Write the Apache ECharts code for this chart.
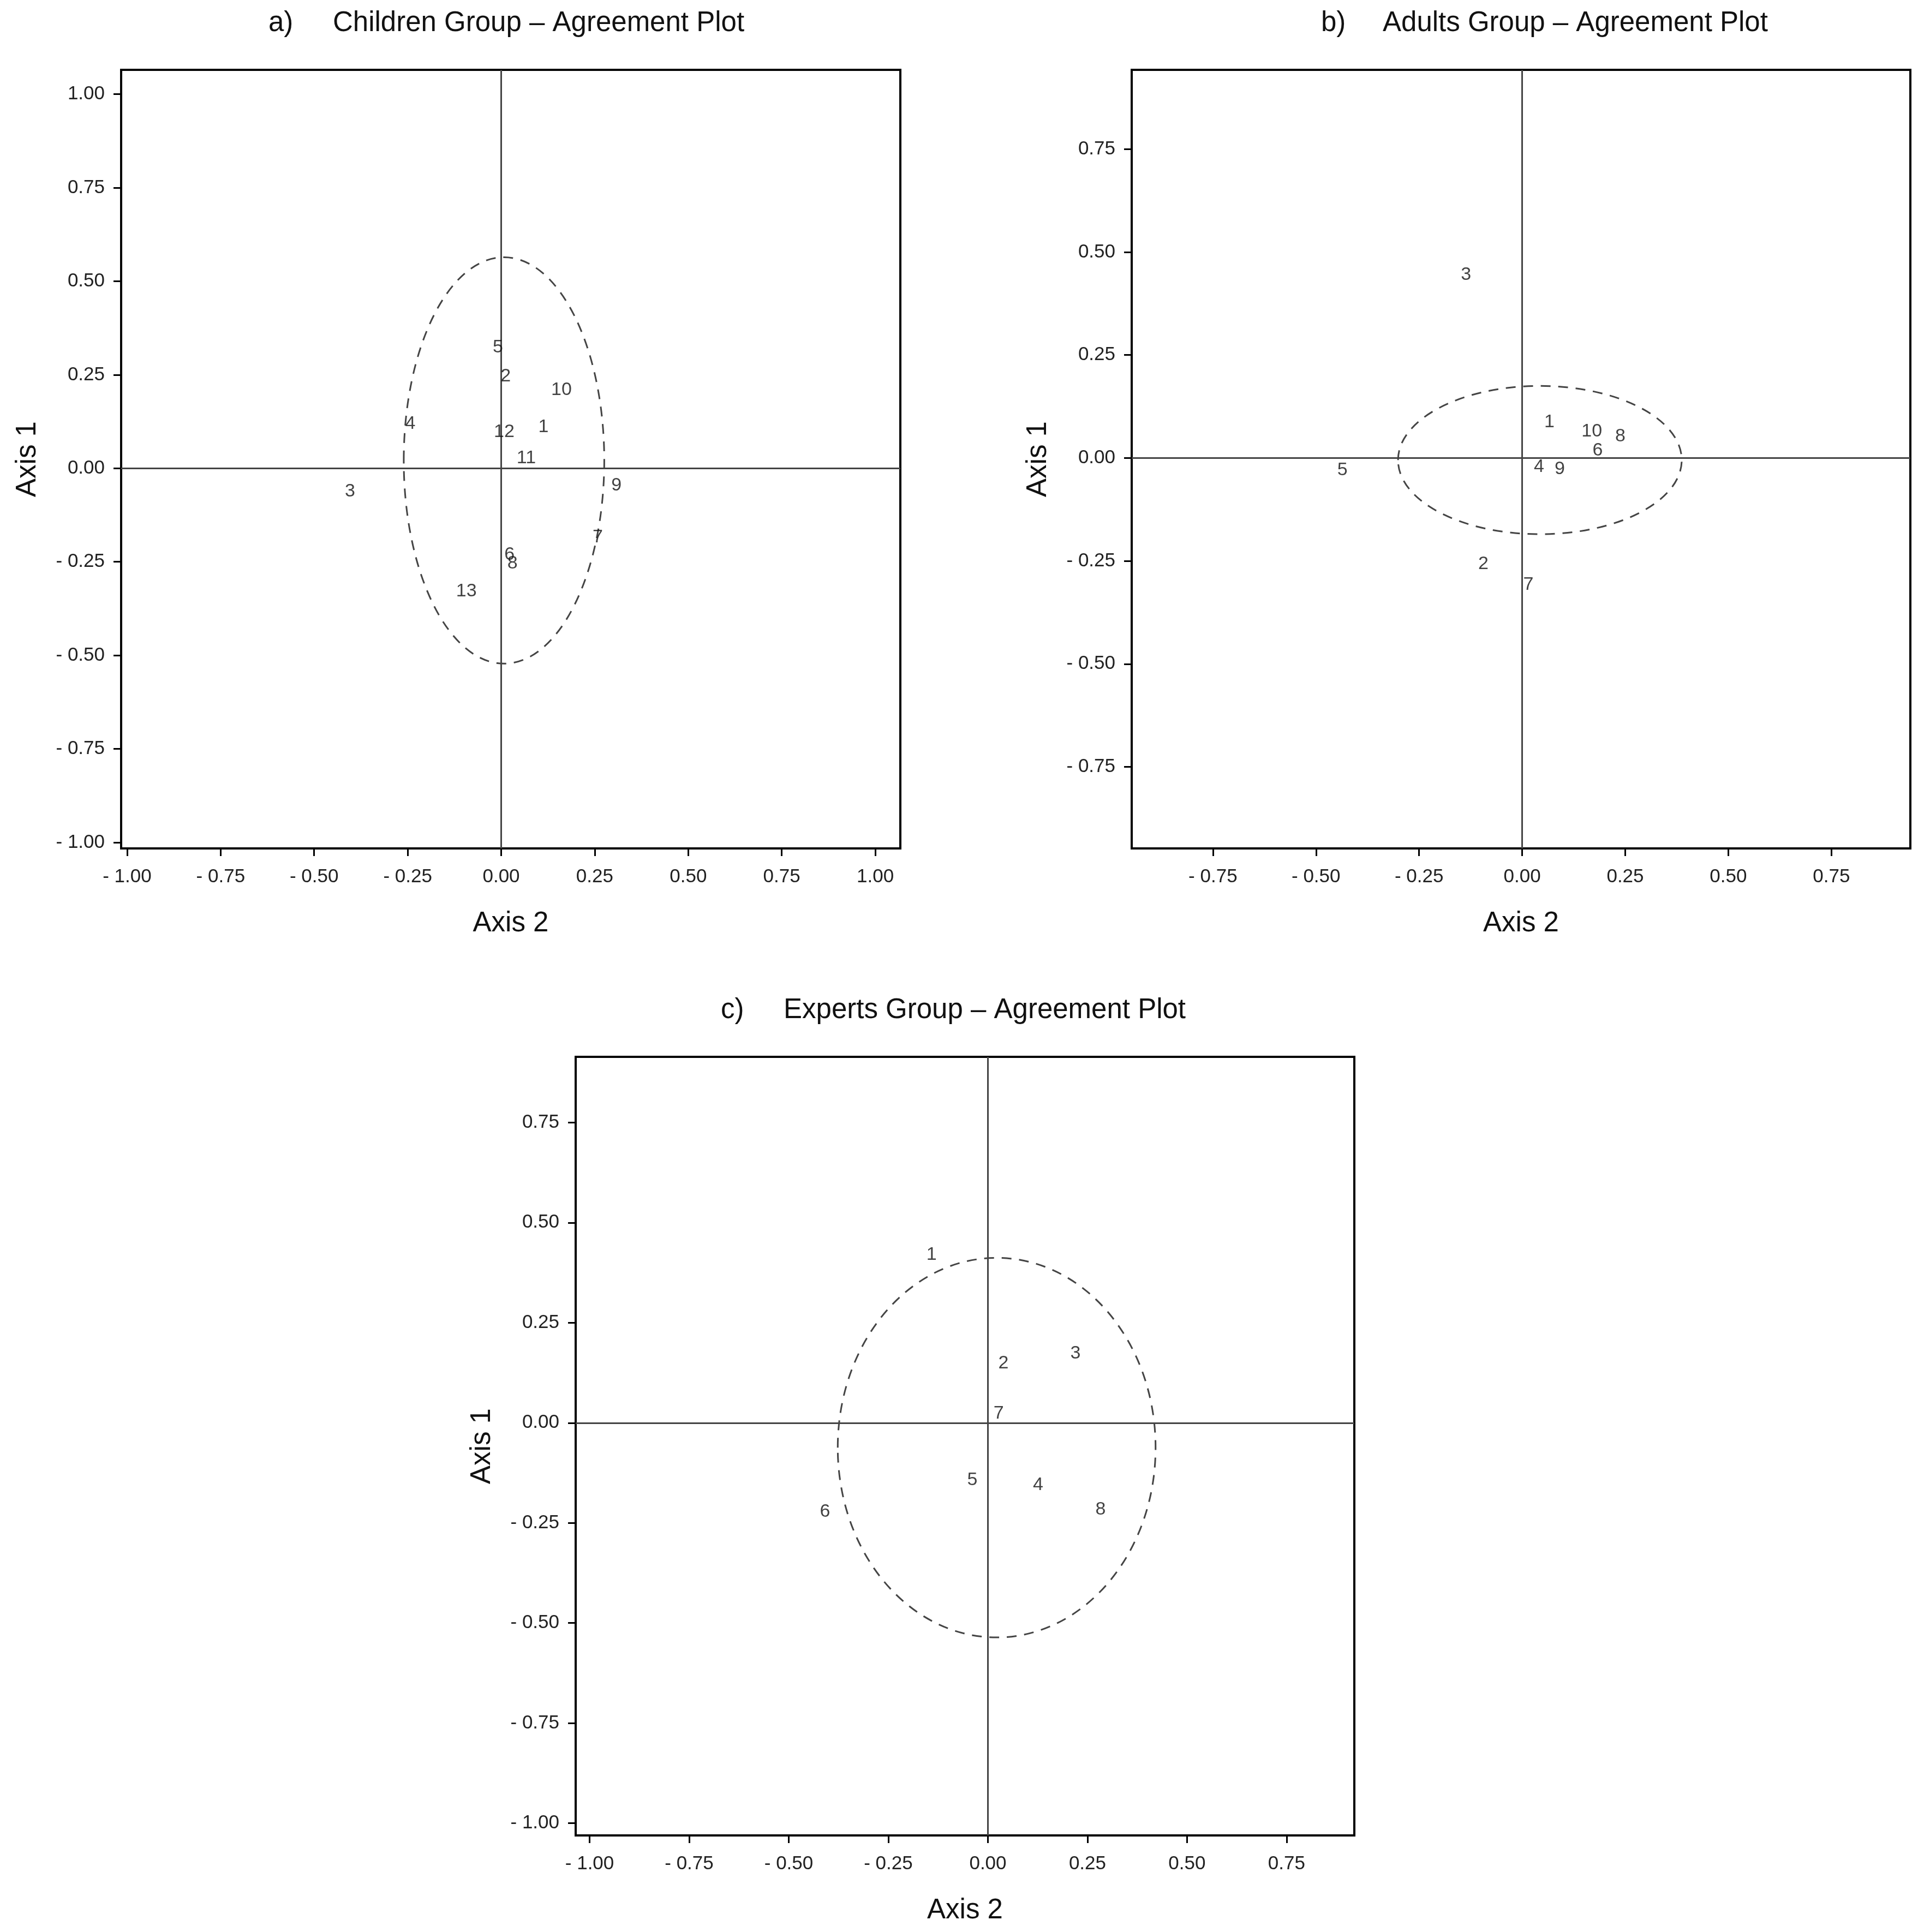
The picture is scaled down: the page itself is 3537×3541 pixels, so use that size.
<!DOCTYPE html>
<html>
<head>
<meta charset="utf-8">
<script src="https://cdn.jsdelivr.net/npm/echarts@6.0.0/dist/echarts.min.js"></script>
<style>
  html, body { margin: 0; padding: 0; background: #fff; }
  #main { width: 3537px; height: 3541px; }
</style>
</head>
<body>
<div id="main"></div>
<script>
// a) Children group (label, axis 2 value, axis 1 value)
const childIds = ['1', '2', '3', '4', '5', '6', '7', '8', '9', '10', '11', '12', '13']
const childX = [0.113, 0.012, -0.404, -0.243, -0.009, 0.022, 0.258, 0.030, 0.308, 0.161, 0.067, 0.008, -0.093]
const childY = [0.110, 0.246, -0.061, 0.119, 0.323, -0.231, -0.184, -0.254, -0.046, 0.209, 0.027, 0.097, -0.329]
const childEllipse = [0.0075, 0.021, 0.268, 0.543]   // cx, cy, rx, ry

// b) Adults group
const adultIds = ['1', '2', '3', '4', '5', '6', '7', '8', '9', '10']
const adultX = [0.066, -0.094, -0.136, 0.041, -0.436, 0.183, 0.015, 0.238, 0.091, 0.169]
const adultY = [0.087, -0.257, 0.445, -0.021, -0.030, 0.018, -0.308, 0.053, -0.027, 0.065]
const adultEllipse = [0.043, -0.005, 0.344, 0.180]

// c) Experts group
const expertIds = ['1', '2', '3', '4', '5', '6', '7', '8']
const expertX = [-0.1415, 0.039, 0.220, 0.126, -0.039, -0.409, 0.027, 0.283]
const expertY = [0.4195, 0.1485, 0.173, -0.155, -0.1425, -0.222, 0.023, -0.216]
const expertEllipse = [0.022, -0.062, 0.399, 0.474]

// tick labels
const ticksA = [-1, -0.75, -0.5, -0.25, 0, 0.25, 0.5, 0.75, 1]
const ticksB = [-0.75, -0.5, -0.25, 0, 0.25, 0.5, 0.75]
const ticksC = [-1, -0.75, -0.5, -0.25, 0, 0.25, 0.5, 0.75]

const FONT = '"Liberation Sans", Arial, sans-serif'

const panels = [
  {
    tag: 'a)', title: 'Children Group \u2013 Agreement Plot', tagLeft: 492, titleLeft: 610, titleTop: 17,
    grid: { left: 222, top: 128, width: 1428, height: 1427 },
    xMin: -1.016, xMax: 1.067, yMin: -1.016, yMax: 1.065,
    xTicks: ticksA, yTicks: ticksA,
    ids: childIds, xs: childX, ys: childY, ellipse: childEllipse
  },
  {
    tag: 'b)', title: 'Adults Group \u2013 Agreement Plot', tagLeft: 2421, titleLeft: 2534, titleTop: 17,
    grid: { left: 2074, top: 128, width: 1427, height: 1427 },
    xMin: -0.947, xMax: 0.9415, yMin: -0.948, yMax: 0.9425,
    xTicks: ticksB, yTicks: ticksB,
    ids: adultIds, xs: adultX, ys: adultY, ellipse: adultEllipse
  },
  {
    tag: 'c)', title: 'Experts Group \u2013 Agreement Plot', tagLeft: 1321, titleLeft: 1436, titleTop: 1826,
    grid: { left: 1055, top: 1937, width: 1427, height: 1427 },
    xMin: -1.035, xMax: 0.92, yMin: -1.0305, yMax: 0.914,
    xTicks: ticksC, yTicks: ticksC,
    ids: expertIds, xs: expertX, ys: expertY, ellipse: expertEllipse
  }
]

function fmt (v) {
  if (Math.abs(v) < 1e-9) return '0.00'
  return (v < 0 ? '- ' : '') + Math.abs(v).toFixed(2)
}

function axisCommon (ticks, min, max, name, gridIndex) {
  return {
    type: 'value',
    gridIndex: gridIndex,
    min: min,
    max: max,
    name: name,
    nameLocation: 'middle',
    nameTextStyle: { fontSize: 51, color: '#111', fontFamily: FONT },
    axisLine: { show: true, onZero: false, lineStyle: { color: '#000', width: 4 } },
    axisTick: { show: true, customValues: ticks, length: 14, lineStyle: { color: '#000', width: 3 } },
    axisLabel: { show: true, customValues: ticks, formatter: fmt, fontSize: 35, color: '#222', fontFamily: FONT },
    splitLine: { show: false }
  }
}

const titles = []
const grids = []
const xAxes = []
const yAxes = []
const series = []

panels.forEach((p, i) => {
  titles.push({ text: p.tag, left: p.tagLeft, top: p.titleTop, padding: 0,
    textStyle: { fontSize: 51, fontWeight: 'normal', color: '#111', fontFamily: FONT } })
  titles.push({ text: p.title, left: p.titleLeft, top: p.titleTop, padding: 0,
    textStyle: { fontSize: 51, fontWeight: 'normal', color: '#111', fontFamily: FONT } })

  grids.push(Object.assign({ show: true, borderColor: '#000', borderWidth: 4, backgroundColor: '#fff' }, p.grid))

  const xa = axisCommon(p.xTicks, p.xMin, p.xMax, 'Axis 2', i)
  xa.position = 'bottom'
  xa.nameGap = 112
  xa.axisLabel.margin = 35
  xAxes.push(xa)

  const ya = axisCommon(p.yTicks, p.yMin, p.yMax, 'Axis 1', i)
  ya.position = 'left'
  ya.nameGap = 146
  ya.axisLabel.margin = 30
  yAxes.push(ya)

  // point labels
  series.push({
    type: 'scatter',
    xAxisIndex: i,
    yAxisIndex: i,
    symbolSize: 1,
    itemStyle: { color: 'rgba(0,0,0,0)' },
    label: {
      show: true,
      position: 'inside',
      formatter: '{b}',
      fontSize: 34,
      color: '#111',
      fontFamily: FONT
    },
    data: p.ids.map((id, k) => ({ name: id, value: [p.xs[k], p.ys[k]] })),
    markLine: {
      silent: true,
      symbol: 'none',
      label: { show: false },
      lineStyle: { color: '#444', width: 3, type: 'solid' },
      data: [{ xAxis: 0 }, { yAxis: 0 }],
      z: 1
    },
    z: 5
  })

  // dashed ellipse
  series.push({
    type: 'custom',
    xAxisIndex: i,
    yAxisIndex: i,
    silent: true,
    data: [p.ellipse],
    renderItem: function (params, api) {
      const c = api.coord([api.value(0), api.value(1)])
      const s = api.size([api.value(2), api.value(3)])
      return {
        type: 'ellipse',
        shape: { cx: c[0], cy: c[1], rx: s[0], ry: s[1] },
        style: { fill: 'none', stroke: '#444', lineWidth: 3, lineDash: [18, 14] }
      }
    },
    z: 3
  })
})

const myChart = echarts.init(document.querySelector('#main'))
myChart.setOption({
  animation: false,
  backgroundColor: '#fff',
  title: titles,
  grid: grids,
  xAxis: xAxes,
  yAxis: yAxes,
  series: series
})
</script>
</body>
</html>
